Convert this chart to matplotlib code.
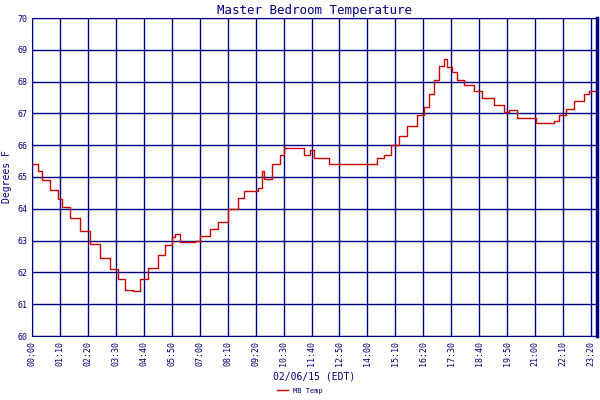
import matplotlib
matplotlib.use("Agg")
import matplotlib.pyplot as plt
import numpy as np

# minutes since midnight and temperature (deg F)
minutes = [0, 15, 25, 45, 65, 75, 95, 120, 145, 170, 195, 215, 232, 252, 270, 290,
           315, 332, 350, 357, 370, 407, 420, 445, 465, 490, 515, 532, 565, 575, 580,
           600, 620, 632, 670, 682, 695, 707, 740, 745, 770, 857, 865, 882, 900, 920,
           940, 965, 982, 995, 1007, 1020, 1032, 1040, 1052, 1065, 1082, 1107, 1127,
           1157, 1182, 1195, 1215, 1250, 1262, 1307, 1320, 1337, 1357, 1382, 1395, 1415]
temps = [65.4, 65.2, 64.9, 64.6, 64.3, 64.05, 63.7, 63.3, 62.9, 62.45, 62.1, 61.8,
         61.45, 61.4, 61.8, 62.15, 62.55, 62.85, 63.1, 63.2, 62.95, 63.0, 63.15, 63.35,
         63.6, 64.0, 64.35, 64.55, 64.65, 65.2, 64.95, 65.4, 65.7, 65.9, 65.9, 65.7,
         65.85, 65.6, 65.6, 65.4, 65.4, 65.4, 65.6, 65.7, 66.0, 66.3, 66.6, 66.95,
         67.2, 67.6, 68.05, 68.5, 68.7, 68.45, 68.3, 68.05, 67.9, 67.7, 67.5, 67.25,
         67.05, 67.1, 66.85, 66.85, 66.7, 66.75, 66.95, 67.15, 67.4, 67.6, 67.7, 67.6]

tick_minutes = list(range(0, 1401, 70))
tick_labels = ["%02d:%02d" % (m // 60, m % 60) for m in tick_minutes]

navy = "#000080"
plt.rcParams["font.family"] = "DejaVu Sans Mono"

fig = plt.figure(figsize=(6, 4), dpi=100)
ax = fig.add_axes([32 / 600, 64 / 400, 565 / 600, 318 / 400])

ax.step(minutes, temps, where="post", color="#cc0000", lw=1, label="MB Temp")

ax.set_xlim(0, 1415)
ax.set_ylim(60, 70)
ax.set_yticks(np.arange(60, 71, 1))
ax.set_xticks(tick_minutes)
ax.set_xticklabels(tick_labels, rotation=90, fontsize=6, color=navy)
ax.tick_params(axis="y", labelsize=6, colors=navy, length=0)
ax.tick_params(axis="x", length=0, colors=navy)
ax.grid(True, color=navy, lw=1)
for s in ax.spines.values():
    s.set_color(navy)
ax.spines["right"].set_linewidth(2.5)

ax.set_title("Master Bedroom Temperature", color=navy, fontsize=9, pad=3)
ax.set_xlabel("02/06/15 (EDT)", color=navy, fontsize=7)
ax.set_ylabel("Degrees F", color=navy, fontsize=7)

fig.legend(loc="lower center", bbox_to_anchor=(0.5, 0.0), frameon=False,
           fontsize=5, handlelength=1.5, labelcolor=navy)

fig.savefig("out.png", dpi=100)
